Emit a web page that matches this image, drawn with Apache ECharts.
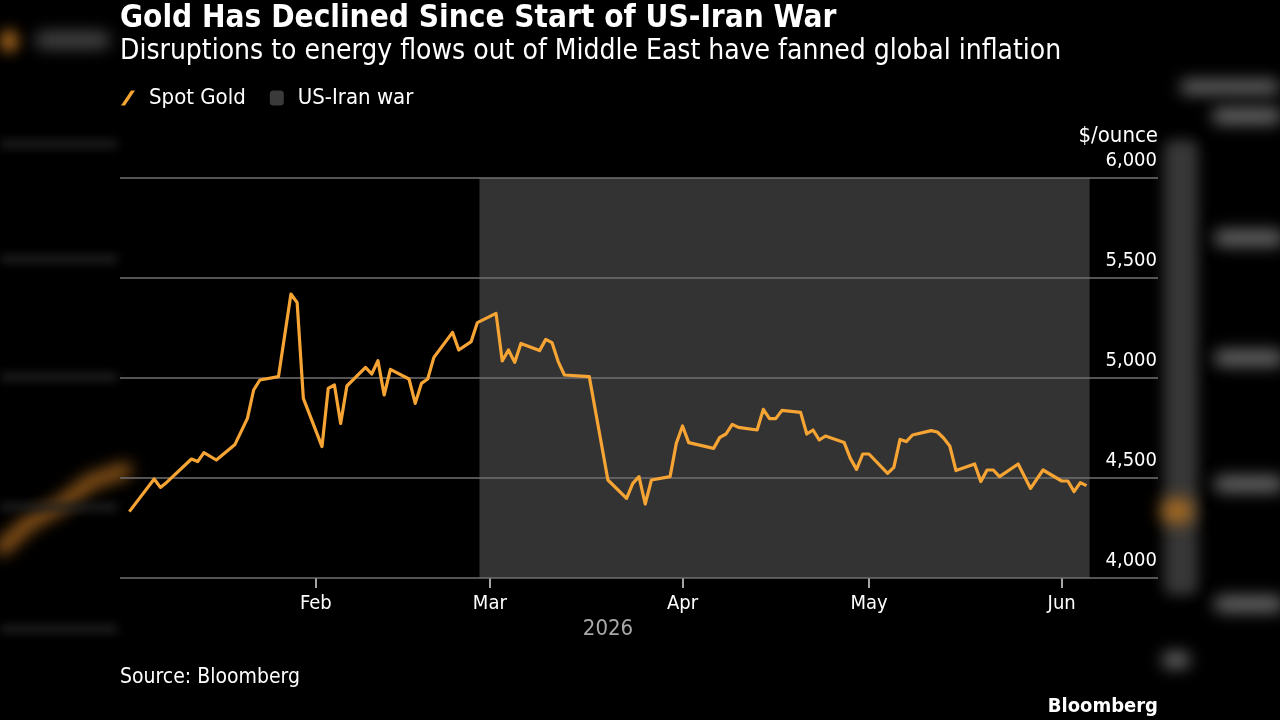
<!DOCTYPE html>
<html>
<head>
<meta charset="utf-8">
<title>Gold Has Declined Since Start of US-Iran War</title>
<script src="https://cdn.jsdelivr.net/npm/echarts@6/dist/echarts.min.js"></script>
<style>
  html, body { margin: 0; padding: 0; background: #000; }
  #chart { width: 1280px; height: 720px; }
</style>
</head>
<body>
<div id="chart"></div>
<script>
// spot gold, $/ounce, trading days
const dates = [
  '2026-01-02', '2026-01-06', '2026-01-07', '2026-01-08', '2026-01-12', '2026-01-13', '2026-01-14', '2026-01-16',
  '2026-01-19', '2026-01-21', '2026-01-22', '2026-01-23', '2026-01-26', '2026-01-28', '2026-01-29', '2026-01-30',
  '2026-02-02', '2026-02-03', '2026-02-04', '2026-02-05', '2026-02-06', '2026-02-09', '2026-02-10', '2026-02-11',
  '2026-02-12', '2026-02-13', '2026-02-16', '2026-02-17', '2026-02-18', '2026-02-19', '2026-02-20', '2026-02-23',
  '2026-02-24', '2026-02-26', '2026-02-27',
  '2026-03-02', '2026-03-03', '2026-03-04', '2026-03-05', '2026-03-06', '2026-03-09', '2026-03-10', '2026-03-11',
  '2026-03-12', '2026-03-13', '2026-03-17', '2026-03-20', '2026-03-23', '2026-03-24', '2026-03-25', '2026-03-26',
  '2026-03-27', '2026-03-30', '2026-03-31',
  '2026-04-01', '2026-04-02', '2026-04-06', '2026-04-07', '2026-04-08', '2026-04-09', '2026-04-10', '2026-04-13',
  '2026-04-14', '2026-04-15', '2026-04-16', '2026-04-17', '2026-04-20', '2026-04-21', '2026-04-22', '2026-04-23',
  '2026-04-24', '2026-04-27', '2026-04-28', '2026-04-29', '2026-04-30',
  '2026-05-01', '2026-05-04', '2026-05-05', '2026-05-06', '2026-05-07', '2026-05-08', '2026-05-11', '2026-05-12',
  '2026-05-13', '2026-05-14', '2026-05-15', '2026-05-18', '2026-05-19', '2026-05-20', '2026-05-21', '2026-05-22',
  '2026-05-25', '2026-05-27', '2026-05-29',
  '2026-06-01', '2026-06-02', '2026-06-03', '2026-06-04', '2026-06-05'
]
const spotGold = [
  4332, 4495, 4453, 4478, 4595, 4582, 4627, 4590,
  4668, 4798, 4940, 4990, 5007, 5420, 5377, 4898,
  4657, 4948, 4965, 4773, 4960, 5053, 5020, 5087,
  4915, 5043, 4995, 4873, 4973, 4995, 5103, 5228,
  5140, 5182, 5277,
  5323, 5085, 5140, 5078, 5173, 5137, 5193, 5177,
  5082, 5015, 5007, 4490, 4398, 4473, 4507, 4370,
  4490, 4507, 4673,
  4760, 4677, 4648, 4703, 4720, 4768, 4753, 4740,
  4843, 4797, 4797, 4838, 4828, 4720, 4740, 4690,
  4710, 4678, 4598, 4543, 4620,
  4620, 4523, 4553, 4693, 4682, 4715, 4737, 4730,
  4700, 4660, 4537, 4570, 4482, 4540, 4540, 4507,
  4570, 4448, 4540,
  4485, 4485, 4432, 4477, 4462
]
// war period shading
const warStart = '2026-02-27T08:00:00'
const warEnd = '2026-06-05T12:00:00'
// axis range and ticks
const xStart = '2025-12-31T12:00:00'
const xEnd = '2026-06-16T12:00:00'
const monthTicks = ['2026-02-01', '2026-03-01', '2026-04-01', '2026-05-01', '2026-06-01']
const monthLabels = ['Feb', 'Mar', 'Apr', 'May', 'Jun']
const yearLabel = '2026'

const font = 'DejaVu Sans Condensed'
const gold = '#f6a434'

const ts = d => echarts.time.parse(d).getTime()
const tickValues = monthTicks.map(ts)

const chart = echarts.init(document.getElementById('chart'))

// blurred screenshot edges: draw shapes off-canvas and keep only their blurred shadow
const OFF = 3000
function blurRect(x, y, w, h, color, blur) {
  return {
    type: 'rect', silent: true, z: -10,
    shape: { x: x - OFF, y: y, width: w, height: h, r: Math.min(h / 2, 8) },
    style: { fill: color, shadowBlur: blur, shadowColor: color, shadowOffsetX: OFF }
  }
}
const sideDecor = [
  blurRect(1164, 140, 34, 455, '#383838', 14),
  blurRect(1180, 80, 100, 14, '#6a6a6a', 16),
  blurRect(1212, 108, 70, 16, '#6a6a6a', 16),
  blurRect(1214, 230, 70, 16, '#6a6a6a', 16),
  blurRect(1214, 350, 70, 16, '#6a6a6a', 16),
  blurRect(1214, 476, 70, 16, '#6a6a6a', 16),
  blurRect(1214, 596, 70, 16, '#6a6a6a', 16),
  blurRect(1162, 652, 28, 16, '#6a6a6a', 16),
  blurRect(1162, 500, 30, 22, '#b8731f', 18),
  blurRect(0, 30, 18, 22, '#a0621c', 14),
  blurRect(35, 32, 75, 16, '#4a4a4a', 16),
  {
    type: 'polyline', silent: true, z: -10,
    shape: { points: [[2, 548], [30, 522], [60, 506], [90, 482], [125, 470]].map(p => [p[0] - OFF, p[1]]) },
    style: { stroke: '#9a5e1c', lineWidth: 14, lineCap: 'round', shadowBlur: 16, shadowColor: '#9a5e1c', shadowOffsetX: OFF }
  }
]
;[145, 260, 378, 508, 630].forEach(y => {
  sideDecor.push(blurRect(0, y - 5, 118, 8, '#202020', 10))
})

const option = {
  backgroundColor: '#000',
  animation: false,
  textStyle: { fontFamily: font },
  title: {
    text: 'Gold Has Declined Since Start of US-Iran War',
    subtext: 'Disruptions to energy flows out of Middle East have fanned global inflation',
    left: 120,
    top: 3,
    padding: 0,
    itemGap: 4,
    textStyle: { color: '#fff', fontFamily: font, fontWeight: 'bold', fontSize: 31.3 },
    subtextStyle: { color: '#fff', fontFamily: font, fontSize: 28 }
  },
  legend: {
    left: 121,
    top: 87,
    padding: 0,
    itemWidth: 14,
    itemHeight: 15,
    itemGap: 24,
    selectedMode: false,
    textStyle: { color: '#fff', fontFamily: font, fontSize: 22, padding: [0, 0, 0, 9] },
    data: [
      { name: 'Spot Gold', icon: 'path://M10,0 L14,0 L4,15 L0,15 Z', itemStyle: { color: gold } },
      { name: 'US-Iran war', icon: 'roundRect', itemStyle: { color: '#3a3a3a' } }
    ]
  },
  grid: { left: 120, right: 122, top: 178, bottom: 142, containLabel: false },
  xAxis: {
    type: 'value',
    min: ts(xStart),
    max: ts(xEnd),
    axisLine: { show: false },
    axisTick: { show: true, length: 10, lineStyle: { color: '#ddd', width: 1.5 }, customValues: tickValues },
    splitLine: { show: false },
    axisLabel: {
      color: '#fff',
      fontFamily: font,
      fontSize: 20,
      margin: 16,
      customValues: tickValues,
      formatter: val => monthLabels[tickValues.indexOf(val)] || ''
    }
  },
  yAxis: {
    type: 'value',
    position: 'right',
    min: 4000,
    max: 6000,
    interval: 500,
    z: 2,
    name: '$/ounce',
    nameLocation: 'end',
    nameGap: 31,
    nameTextStyle: { color: '#fff', fontFamily: font, fontSize: 22, align: 'right' },
    axisLine: { show: false },
    axisTick: { show: false },
    splitLine: { lineStyle: { color: '#707070', width: 1.5 } },
    axisLabel: {
      inside: true,
      margin: 1,
      color: '#fff',
      fontFamily: font,
      fontSize: 20,
      verticalAlign: 'bottom',
      padding: [0, 0, 7, 0],
      formatter: v => v.toLocaleString('en-US')
    }
  },
  series: [
    {
      name: 'US-Iran war',
      type: 'line',
      z: 1,
      data: [],
      itemStyle: { color: '#3a3a3a' },
      markArea: {
        silent: true,
        itemStyle: { color: '#333333' },
        data: [[{ xAxis: ts(warStart) }, { xAxis: ts(warEnd) }]]
      }
    },
    {
      name: 'Spot Gold',
      type: 'line',
      z: 3,
      showSymbol: false,
      data: dates.map((d, i) => [ts(d), spotGold[i]]),
      lineStyle: { color: gold, width: 3.2, join: 'round' },
      itemStyle: { color: gold }
    }
  ],
  graphic: sideDecor.concat([
    {
      type: 'text', left: 120, top: 667,
      style: { text: 'Source: Bloomberg', fill: '#fff', font: '21px "DejaVu Sans Condensed"' }
    },
    {
      type: 'text', right: 122, top: 697,
      style: { text: 'Bloomberg', fill: '#fff', font: 'bold 20px "DejaVu Sans Condensed"' }
    },
    {
      type: 'text', x: 608, y: 629,
      style: { text: yearLabel, fill: '#a8a8a8', font: '22px "DejaVu Sans Condensed"', align: 'center', verticalAlign: 'middle' }
    }
  ])
}

chart.setOption(option)
</script>
</body>
</html>
